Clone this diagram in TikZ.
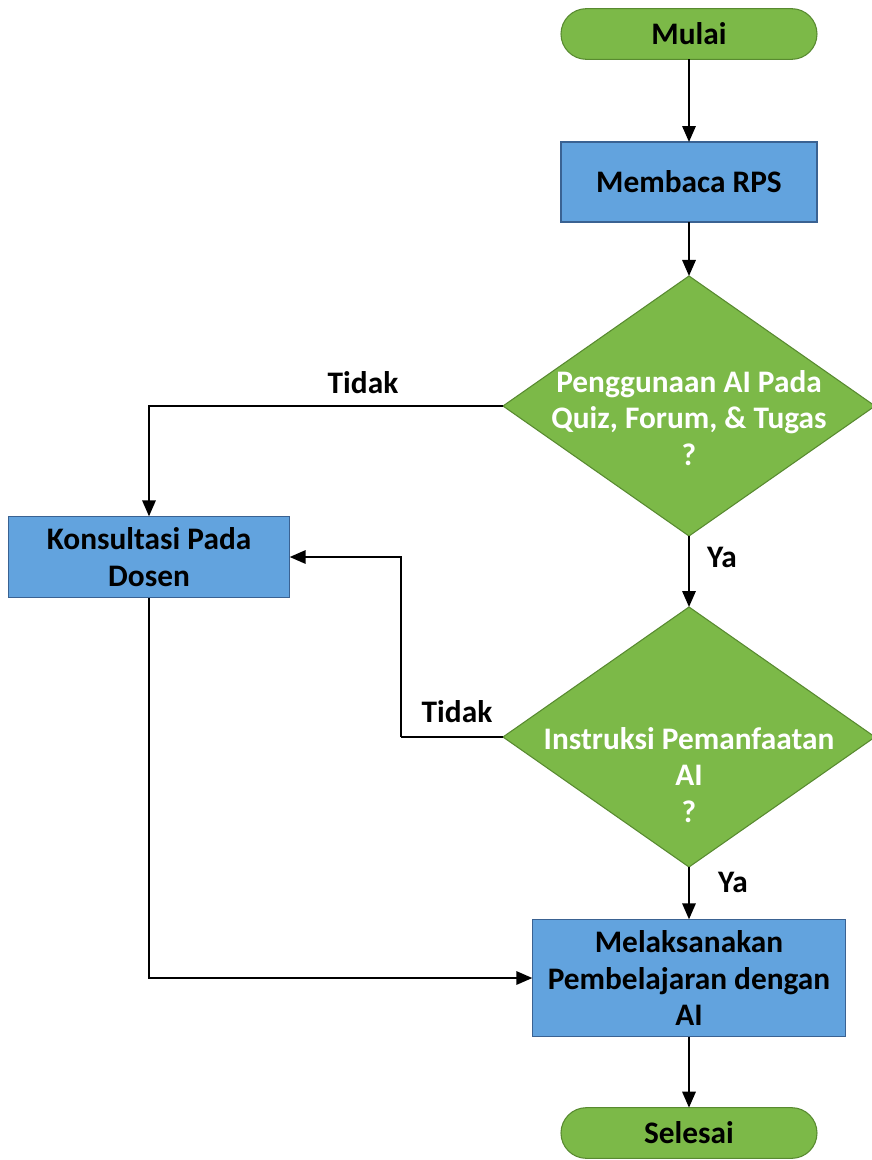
\documentclass[tikz,border=0pt]{standalone}
\usepackage{fontspec}
\setmainfont{Carlito}
\usepackage{tikz}
\usetikzlibrary{shapes.geometric,arrows.meta}

\definecolor{flowgreen}{RGB}{124,185,72}
\definecolor{flowgreenedge}{RGB}{88,138,48}
\definecolor{flowblue}{RGB}{98,163,222}
\definecolor{flowblueedge}{RGB}{58,98,146}

\begin{document}
\begin{tikzpicture}[x=0.75pt, y=-0.75pt,
    every node/.style={font=\fontsize{23.5}{27.5}\selectfont\bfseries, outer sep=0pt},
    terminal/.style={draw=flowgreenedge, fill=flowgreen, line width=0.8pt, rounded corners=19pt, minimum width=192pt, minimum height=38pt},
    process/.style={draw=flowblueedge, fill=flowblue, line width=0.8pt, align=center, inner sep=2pt},
    decision/.style={diamond, draw=flowgreenedge, fill=flowgreen, line width=0.8pt, inner sep=0pt, minimum width=279pt, minimum height=195pt},
    dtext/.style={text=white, align=center},
    arr/.style={line width=1.6pt, -{Triangle[length=12pt, width=10pt]}},
    plain/.style={line width=1.6pt}]

            \useasboundingbox (0,0) rectangle (871,1160);

            \node[terminal] (mulai) at (689,34) {Mulai};

            \node[process, minimum width=192pt, minimum height=60pt] (rps) at (689,182) {Membaca RPS};

            \node[decision] (cek1) at (689,406) {};
            \node[dtext] at (689,418) {Penggunaan AI Pada\\Quiz, Forum, \& Tugas\\?};

            \node[process, minimum width=211pt, minimum height=61pt] (konsul) at (149,557) {Konsultasi Pada\\Dosen};

            \node[decision] (cek2) at (689,737) {};
            \node[dtext] at (689,775) {Instruksi Pemanfaatan\\AI\\?};

            \node[process, minimum width=235pt, minimum height=88pt] (laksana) at (689,978) {Melaksanakan\\Pembelajaran dengan\\AI};

            \node[terminal] (selesai) at (689,1133) {Selesai};

            \coordinate (belok) at (401,737);

            \draw[arr] (mulai) -- (rps);
            \draw[arr] (rps) -- (cek1);
            \draw[arr] (cek1.west) -| (konsul.north);
            \draw[arr] (cek1.south) -- (cek2.north);
            \draw[plain] (cek2.west) -- (belok);
            \draw[arr] (belok) |- (konsul.east);
            \draw[arr] (cek2.south) -- (laksana.north);
            \draw[arr] (konsul.south) |- (laksana.west);
            \draw[arr] (laksana) -- (selesai);

            \node (tidak1) at (363,383) {Tidak};
            \node (ya1) at (722,557) {Ya};
            \node (tidak2) at (457,712) {Tidak};
            \node (ya2) at (733,882) {Ya};

\end{tikzpicture}
\end{document}
